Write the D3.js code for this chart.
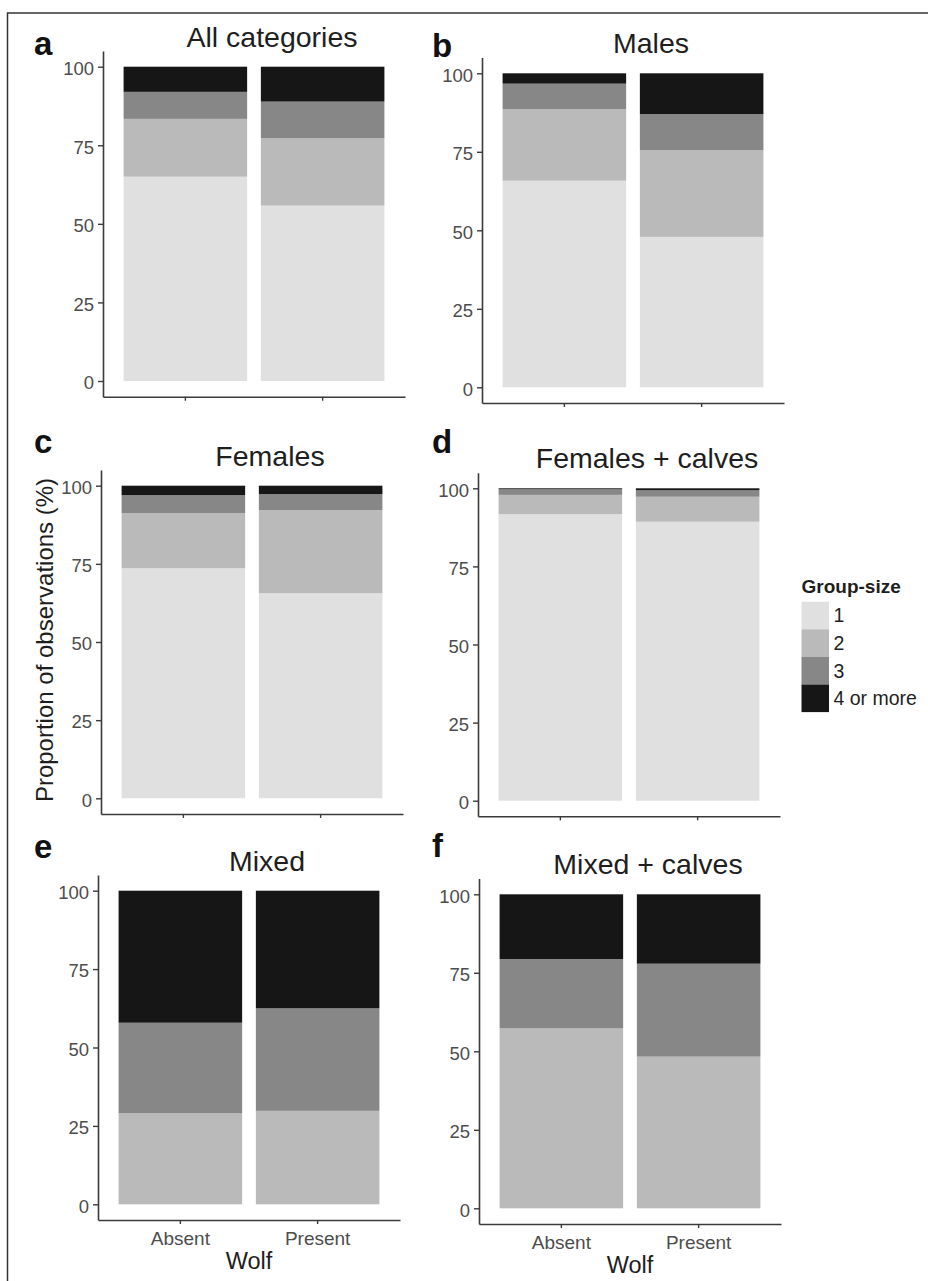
<!DOCTYPE html>
<html>
<head>
<meta charset="utf-8">
<script src="https://cdn.jsdelivr.net/npm/d3@7"></script>
<style>
  html, body { margin: 0; padding: 0; background: #fff; }
  svg { display: block; font-family: "Liberation Sans", Arial, Helvetica, sans-serif; }
</style>
</head>
<body>
<svg id="chart" width="928" height="1281"></svg>
<script>
// ---------- data ----------
const wolf = ["Absent", "Present"];
const groupSize = ["1", "2", "3", "4 or more"];
const groupFill = ["#e0e0e0", "#bababa", "#878787", "#161616"];
const yTicks = [0, 25, 50, 75, 100];
const panelLetters = ["a", "b", "c", "d", "e", "f"];
const panelTitles = ["All categories", "Males", "Females", "Females + calves", "Mixed", "Mixed + calves"];

// percent of observations per group size [1, 2, 3, 4 or more], rows = Absent, Present
const allCategories = [[65.0, 18.4, 8.6, 8.0], [55.8, 21.4, 11.7, 11.1]];
const males         = [[65.8, 22.8, 8.1, 3.3], [47.9, 27.6, 11.5, 13.0]];
const females       = [[73.6, 17.6, 5.8, 3.0], [65.6, 26.6, 5.1, 2.7]];
const femalesCalves = [[91.7, 6.2, 1.8, 0.3], [89.3, 8.0, 2.1, 0.6]];
const mixed         = [[0, 29.0, 28.9, 42.1], [0, 29.8, 32.7, 37.5]];
const mixedCalves   = [[0, 57.3, 22.1, 20.6], [0, 48.3, 29.6, 22.1]];
const panelData = [allCategories, males, females, femalesCalves, mixed, mixedCalves];

// ---------- layout (pixel positions of each panel) ----------
const layout = [
  { x0: 103, y100: 66.7,  y0: 381.0,  xLabels: false, lx: 34,  ly: 55 },
  { x0: 482, y100: 73.3,  y0: 387.3,  xLabels: false, lx: 432, ly: 56.5 },
  { x0: 101, y100: 485.7, y0: 798.3,  xLabels: false, lx: 34,  ly: 453 },
  { x0: 478, y100: 488.3, y0: 800.7,  xLabels: false, lx: 432, ly: 453 },
  { x0: 98,  y100: 890.7, y0: 1204.3, xLabels: true,  lx: 34,  ly: 858 },
  { x0: 479, y100: 894.3, y0: 1208.3, xLabels: true,  lx: 432, ly: 857 }
];
const plotW = 302;

const svg = d3.select("#chart");

// outer frame (top and left edges visible)
svg.append("path")
  .attr("d", "M7.5,1300 V13 H960")
  .attr("fill", "none").attr("stroke", "#333").attr("stroke-width", 1.5);

const color = d3.scaleOrdinal().domain(groupSize).range(groupFill);
const stack = d3.stack().keys(groupSize);

panelData.forEach((rows, i) => {
  const L = layout[i];
  const unit = (L.y0 - L.y100) / 100;
  const y = d3.scaleLinear().domain([-5, 105]).range([L.y0 + 5 * unit, L.y100 - 5 * unit]);
  const x = d3.scaleBand().domain(wolf).range([L.x0, L.x0 + plotW]).paddingInner(0.1).paddingOuter(0.15);

  const table = rows.map((vals, r) => {
    const o = { wolf: wolf[r] };
    groupSize.forEach((g, k) => { o[g] = vals[k]; });
    return o;
  });
  const series = stack(table);

  const g = svg.append("g");

  g.selectAll("g.layer").data(series).join("g")
    .attr("fill", d => color(d.key))
    .selectAll("rect").data(d => d).join("rect")
    .attr("x", d => x(d.data.wolf))
    .attr("width", x.bandwidth())
    .attr("y", d => y(d[1]))
    .attr("height", d => Math.max(0, y(d[0]) - y(d[1])));

  // y axis
  const ya = g.append("g").attr("transform", `translate(${L.x0},0)`)
    .call(d3.axisLeft(y).tickValues(yTicks).tickSize(5).tickSizeOuter(0).tickPadding(4));
  ya.select(".domain").attr("stroke", "#3a3a3a").attr("stroke-width", 1.6);
  ya.selectAll(".tick line").attr("stroke", "#3a3a3a").attr("stroke-width", 1.4);
  ya.selectAll(".tick text").attr("font-size", 18.5).attr("fill", "#4d4d4d")
    .attr("font-family", "Liberation Sans, Arial, sans-serif").attr("dy", "0.42em");

  // x axis
  const axisY = y(-5);
  const xa = g.append("g").attr("transform", `translate(0,${axisY})`)
    .call(d3.axisBottom(x).tickSize(4).tickSizeOuter(0).tickPadding(8)
      .tickFormat(L.xLabels ? (d => d) : () => ""));
  xa.select(".domain").attr("stroke", "#3a3a3a").attr("stroke-width", 1.6);
  xa.selectAll(".tick line").attr("stroke", "#3a3a3a").attr("stroke-width", 1.4);
  xa.selectAll(".tick text").attr("font-size", 19).attr("fill", "#4d4d4d")
    .attr("font-family", "Liberation Sans, Arial, sans-serif");

  if (L.xLabels) {
    g.append("text")
      .attr("x", L.x0 + plotW / 2).attr("y", axisY + 49)
      .attr("text-anchor", "middle").attr("font-size", 23.5).attr("fill", "#1e1e1e")
      .text("Wolf");
  }

  // panel title
  g.append("text")
    .attr("x", L.x0 + 169).attr("y", L.y100 - 20)
    .attr("text-anchor", "middle").attr("font-size", 28.5).attr("fill", "#1e1e1e")
    .text(panelTitles[i]);

  // panel letter
  g.append("text")
    .attr("x", L.lx).attr("y", L.ly)
    .attr("font-size", 33).attr("font-weight", "bold").attr("fill", "#111")
    .text(panelLetters[i]);
});

// y axis title
svg.append("text")
  .attr("transform", "translate(53,640) rotate(-90)")
  .attr("text-anchor", "middle").attr("font-size", 24).attr("fill", "#1e1e1e")
  .text("Proportion of observations (%)");

// legend
const leg = svg.append("g").attr("transform", "translate(801.5,601.7)");
leg.append("text").attr("x", 0).attr("y", -8.5)
  .attr("font-size", 19).attr("font-weight", "bold").attr("fill", "#1e1e1e")
  .text("Group-size");
const keyH = 27.6;
const items = leg.selectAll("g.item").data(groupSize).join("g")
  .attr("transform", (d, k) => `translate(0,${k * keyH})`);
items.append("rect").attr("width", 27.5).attr("height", keyH).attr("fill", d => color(d));
items.append("text").attr("x", 32).attr("y", keyH / 2 + 7)
  .attr("font-size", 19.5).attr("fill", "#1e1e1e").text(d => d);
</script>
</body>
</html>
